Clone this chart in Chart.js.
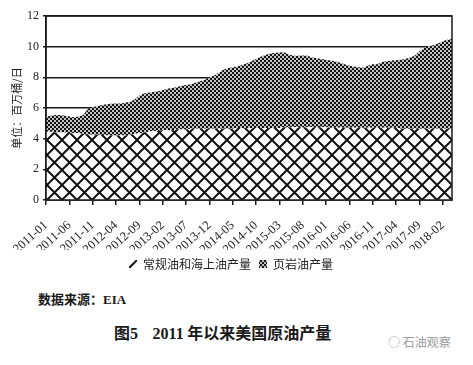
<!DOCTYPE html>
<html>
<head>
<meta charset="utf-8">
<script src="https://cdn.jsdelivr.net/npm/chart.js@4.4.1/dist/chart.umd.min.js"></script>
<style>
  body { margin: 0; background: #fff; width: 473px; height: 365px; position: relative; overflow: hidden; }
  #wrap { position: absolute; left: 0; top: 0; width: 473px; height: 280px; }
  .note { position: absolute; font-family: "Noto Sans CJK SC", sans-serif; color: #1a1a1a; white-space: nowrap; }
  #source { left: 38px; top: 289px; font-size: 13px; font-weight: bold; }
  #title { left: 114px; top: 320px; font-size: 16px; font-weight: bold; }
  #mark { left: 388px; top: 333px; font-size: 12px; color: #9a9a9a; }
</style>
</head>
<body>
<div id="wrap"><canvas id="chart"></canvas></div>
<div class="note" id="source">数据来源：<span style="font-family:'Liberation Serif',serif">EIA</span></div>
<div class="note" id="title">图<span style="font-family:'Liberation Serif',serif">5</span>&nbsp;&nbsp;&nbsp;&nbsp;<span style="font-family:'Liberation Serif',serif">2011</span> 年以来美国原油产量</div>
<div class="note" id="mark">◌ 石油观察</div>
<script>
// months 2011-01 .. 2018-04
const months = [
  '2011-01','2011-02','2011-03','2011-04','2011-05','2011-06','2011-07','2011-08','2011-09','2011-10','2011-11','2011-12',
  '2012-01','2012-02','2012-03','2012-04','2012-05','2012-06','2012-07','2012-08','2012-09','2012-10','2012-11','2012-12',
  '2013-01','2013-02','2013-03','2013-04','2013-05','2013-06','2013-07','2013-08','2013-09','2013-10','2013-11','2013-12',
  '2014-01','2014-02','2014-03','2014-04','2014-05','2014-06','2014-07','2014-08','2014-09','2014-10','2014-11','2014-12',
  '2015-01','2015-02','2015-03','2015-04','2015-05','2015-06','2015-07','2015-08','2015-09','2015-10','2015-11','2015-12',
  '2016-01','2016-02','2016-03','2016-04','2016-05','2016-06','2016-07','2016-08','2016-09','2016-10','2016-11','2016-12',
  '2017-01','2017-02','2017-03','2017-04','2017-05','2017-06','2017-07','2017-08','2017-09','2017-10','2017-11','2017-12',
  '2018-01','2018-02','2018-03','2018-04'
];

// 常规油和海上油产量 (million bbl/d)
const conventional = [
  4.45,4.45,4.40,4.40,4.40,4.35,4.35,4.35,4.30,4.25,4.25,4.25,
  4.25,4.20,4.20,4.20,4.20,4.20,4.25,4.30,4.35,4.40,4.45,4.50,
  4.50,4.55,4.55,4.55,4.60,4.60,4.60,4.65,4.65,4.65,4.65,4.65,
  4.65,4.65,4.65,4.65,4.65,4.70,4.70,4.70,4.70,4.70,4.70,4.70,
  4.70,4.70,4.70,4.75,4.75,4.75,4.75,4.75,4.75,4.75,4.75,4.75,
  4.75,4.72,4.72,4.72,4.72,4.72,4.72,4.72,4.72,4.72,4.72,4.72,
  4.72,4.72,4.72,4.72,4.65,4.65,4.65,4.65,4.65,4.65,4.65,4.65,
  4.65,4.65,4.65,4.65
];

// 页岩油产量 (million bbl/d)
const shale = [
  0.98,1.05,1.15,1.15,1.10,1.10,1.05,1.10,1.25,1.70,1.80,1.88,
  1.95,2.05,2.08,2.10,2.10,2.15,2.15,2.25,2.45,2.55,2.55,2.55,
  2.60,2.60,2.70,2.75,2.75,2.85,2.90,2.90,3.00,3.10,3.20,3.35,
  3.45,3.65,3.85,3.95,4.00,4.00,4.10,4.20,4.35,4.50,4.65,4.75,
  4.85,4.90,4.92,4.88,4.75,4.65,4.65,4.67,4.65,4.55,4.50,4.45,
  4.40,4.38,4.33,4.23,4.13,4.03,3.98,3.93,3.91,4.03,4.13,4.13,
  4.28,4.33,4.38,4.40,4.50,4.55,4.65,4.75,5.05,5.25,5.40,5.45,
  5.55,5.70,5.80,5.85
];

const yTicks = [0, 2, 4, 6, 8, 10, 12];
const seriesNames = ['常规油和海上油产量', '页岩油产量'];

// diamond cross-hatch for conventional oil
function hatchPattern() {
  const c = document.createElement('canvas');
  c.width = 15; c.height = 15;
  const g = c.getContext('2d');
  g.fillStyle = '#fff';
  g.fillRect(0, 0, 15, 15);
  g.strokeStyle = '#111';
  g.lineWidth = 2;
  g.beginPath();
  g.moveTo(-1, -1); g.lineTo(16, 16);
  g.moveTo(16, -1); g.lineTo(-1, 16);
  g.stroke();
  const p = g.createPattern(c, 'repeat');
  p.setTransform(new DOMMatrix().translate(2, 5));
  return p;
}

// fine checker for shale oil
function checkerPattern() {
  const c = document.createElement('canvas');
  c.width = 4; c.height = 4;
  const g = c.getContext('2d');
  g.fillStyle = '#c4c4c4';
  g.fillRect(0, 0, 4, 4);
  g.fillStyle = '#141414';
  g.fillRect(0, 0, 2, 2);
  g.fillRect(2, 2, 2, 2);
  return g.createPattern(c, 'repeat');
}

// box around the plot area
const frame = {
  id: 'frame',
  afterDatasetsDraw(chart) {
    const a = chart.chartArea, ctx = chart.ctx;
    ctx.save();
    ctx.strokeStyle = '#1a1a1a';
    ctx.lineWidth = 1.5;
    ctx.strokeRect(a.left, a.top, a.right - a.left, a.bottom - a.top);
    ctx.restore();
  }
};

const hatch = hatchPattern();
const checker = checkerPattern();

new Chart(document.getElementById('chart'), {
  type: 'line',
  data: {
    labels: months,
    datasets: [
      {
        label: seriesNames[0],
        data: conventional,
        backgroundColor: hatch,
        borderWidth: 0,
        pointRadius: 0,
        fill: 'origin',
        stack: 'oil'
      },
      {
        label: seriesNames[1],
        data: shale,
        backgroundColor: checker,
        borderWidth: 0,
        pointRadius: 0,
        fill: '-1',
        stack: 'oil'
      }
    ]
  },
  options: {
    responsive: true,
    maintainAspectRatio: false,
    animation: false,
    layout: { padding: { top: 16, right: 21, left: 10, bottom: 0 } },
    plugins: {
      tooltip: { enabled: false },
      legend: {
        position: 'bottom',
        labels: {
          boxWidth: 8,
          boxHeight: 8,
          padding: 8,
          color: '#222',
          font: { family: '"Noto Sans CJK SC", sans-serif', size: 12 }
        }
      }
    },
    scales: {
      x: {
        offset: false,
        grid: { drawOnChartArea: false, color: '#1a1a1a', lineWidth: 1.5, tickLength: 5 },
        border: { color: '#1a1a1a', width: 1.5 },
        ticks: {
          autoSkip: false,
          minRotation: 42,
          maxRotation: 42,
          padding: 13,
          color: '#222',
          font: { family: '"Liberation Serif", serif', size: 12.5 },
          callback: function (v, i) { return i % 5 === 0 ? months[i] : null; }
        },
        afterFit(scale) { scale.height = 50; }
      },
      y: {
        stacked: true,
        min: 0,
        max: 12,
        afterBuildTicks(scale) { scale.ticks = yTicks.map(v => ({ value: v })); },
        grid: { color: '#1a1a1a', lineWidth: 1.5, tickLength: 3 },
        border: { color: '#1a1a1a', width: 1.5 },
        ticks: {
          padding: 4,
          color: '#222',
          font: { family: '"Liberation Serif", serif', size: 12 }
        },
        title: {
          display: true,
          text: '单位：百万桶/日',
          color: '#222',
          padding: 0,
          font: { family: '"Noto Sans CJK SC", sans-serif', size: 11 }
        },
        afterFit(scale) { scale.width = 36; }
      }
    }
  },
  plugins: [frame]
});
</script>
</body>
</html>
